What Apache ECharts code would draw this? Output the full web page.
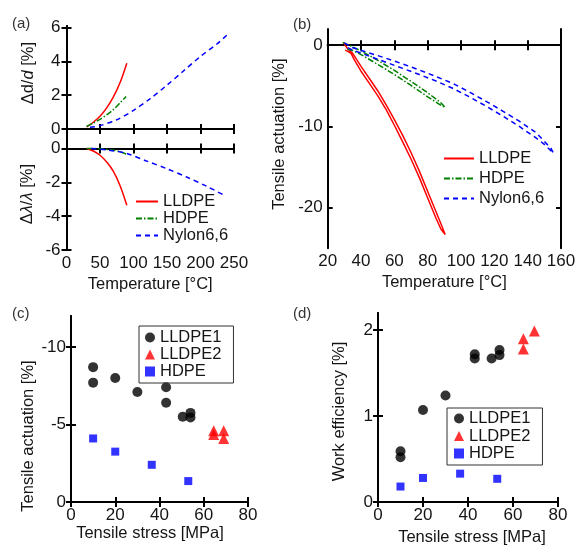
<!DOCTYPE html>
<html>
<head>
<meta charset="utf-8">
<script src="https://cdn.jsdelivr.net/npm/echarts@6/dist/echarts.min.js"></script>
<style>
  html, body { margin: 0; padding: 0; background: #fff; }
  #chart { width: 576px; height: 546px; }
</style>
</head>
<body>
<div id="chart"></div>
<script>
// ---------- (a) upper: diameter change vs temperature ----------
const aTempLLDPE = [30, 40, 50, 60, 70, 80, 90];
const aDiamLLDPE = [0.12, 0.4, 0.75, 1.25, 1.9, 2.75, 3.9];
const aTempHDPE = [30, 40, 50, 60, 70, 80, 89];
const aDiamHDPE = [0.15, 0.35, 0.57, 0.84, 1.15, 1.55, 1.93];
const aTempNylon = [35, 50, 75, 100, 125, 150, 175, 200, 225, 241];
const aDiamNylon = [0.1, 0.2, 0.55, 1.1, 1.8, 2.6, 3.45, 4.3, 5.05, 5.62];

// ---------- (a) lower: pitch change vs temperature ----------
const aPitchTempLLDPE = [30, 40, 50, 60, 70, 80, 90];
const aPitchLLDPE = [0, -0.15, -0.4, -0.8, -1.35, -2.2, -3.35];
const aPitchTempHDPE = [30, 50, 70, 80, 89];
const aPitchHDPE = [0, -0.02, -0.1, -0.2, -0.33];
const aPitchTempNylon = [37, 60, 90, 120, 150, 180, 210, 237];
const aPitchNylon = [0, -0.08, -0.3, -0.75, -1.2, -1.7, -2.25, -2.8];

// ---------- (b) tensile actuation loops (heating then cooling) ----------
const bTempLLDPE = [29.5, 32, 35, 40, 45, 50, 55, 60, 65, 70, 75, 80, 85, 88, 90.5,
                    88, 85, 80, 75, 70, 65, 60, 55, 50, 45, 40, 36, 34, 32, 30.5];
const bActLLDPE = [0.3, -0.45, -1.0, -2.6, -4.1, -5.6, -7.3, -9.15, -11.1, -13.2, -15.5, -18.0, -20.5, -22.0, -23.3,
                   -22.65, -21.3, -18.8, -16.3, -14.0, -11.9, -9.85, -7.9, -6.2, -4.7, -3.2, -1.8, -1.0, -0.75, -0.6];
const bTempHDPE = [29, 35, 40, 50, 60, 70, 80, 88, 90.5,
                   88, 80, 70, 60, 50, 40, 35, 30.5];
const bActHDPE = [0.35, -0.2, -0.7, -1.85, -3.1, -4.45, -5.85, -7.1, -7.65,
                  -7.4, -6.35, -4.95, -3.6, -2.35, -1.15, -0.65, -0.45];
const bTempNylon = [30, 35, 45, 55, 65, 75, 85, 95, 105, 115, 125, 135, 145, 154, 155.5,
                    150, 145, 135, 125, 115, 105, 95, 85, 75, 65, 55, 45, 35, 31];
const bActNylon = [0.3, -0.3, -0.95, -1.6, -2.3, -3.05, -3.85, -4.7, -5.75, -6.9, -8.1, -9.35, -10.75, -12.7, -13.3,
                   -12.2, -11.4, -10.0, -8.7, -7.5, -6.35, -5.3, -4.4, -3.6, -2.85, -2.1, -1.35, -0.6, -0.2];

// ---------- (c) tensile actuation vs stress ----------
const cStressLLDPE1 = [10, 10, 20, 30, 43, 43, 50.5, 54, 54];
const cActLLDPE1 = [-8.7, -7.7, -8.0, -7.1, -7.4, -6.4, -5.5, -5.75, -5.45];
const cStressLLDPE2 = [64.5, 64.5, 69, 69];
const cActLLDPE2 = [-4.6, -4.35, -4.6, -4.1];
const cStressHDPE = [10, 20, 36.5, 53];
const cActHDPE = [-4.1, -3.25, -2.4, -1.35];

// ---------- (d) work efficiency vs stress ----------
const dStressLLDPE1 = [10, 10, 20, 30, 43, 43, 50.5, 54, 54];
const dEffLLDPE1 = [0.59, 0.52, 1.07, 1.24, 1.72, 1.67, 1.67, 1.77, 1.71];
const dStressLLDPE2 = [64.6, 64.6, 69.5];
const dEffLLDPE2 = [1.9, 1.78, 1.99];
const dStressHDPE = [10, 20, 36.5, 53];
const dEffHDPE = [0.18, 0.28, 0.33, 0.27];

// ---------- tick values ----------
const aTopTicks = [0, 2, 4, 6];
const aBottomTicks = [-6, -4, -2, 0];
const bTicks = [-20, -10, 0];
const cTicks = [-10, -5, 0];
const dTicks = [0, 1, 2];

const FONT = 'Liberation Sans, Arial, Helvetica, sans-serif';
const INK = '#151515';
const RED = '#ff0000', GREEN = '#008000', BLUE = '#0000ff';

const zip = (xs, ys) => xs.map((x, i) => [x, ys[i]]);

const frameLine = { show: true, lineStyle: { color: '#000', width: 2 } };
const tickStyle = { show: true, inside: true, length: 5, lineStyle: { color: '#000', width: 2 } };
const labelStyle = { color: INK, fontSize: 17, fontFamily: FONT };
const nameStyle = { color: INK, fontSize: 16.5, fontFamily: FONT };

const xAxis = [], yAxis = [];

function addX(grid, min, max, interval, opts) {
  const base = { type: 'value', gridIndex: grid, min, max, interval, splitLine: { show: false }, axisLine: frameLine };
  xAxis.push(Object.assign({}, base, {
    position: 'bottom',
    axisTick: tickStyle,
    axisLabel: Object.assign({ show: !!opts.labels, margin: 5, showMinLabel: true, showMaxLabel: true }, labelStyle),
    name: opts.name || '', nameLocation: 'middle', nameGap: opts.nameGap || 0,
    nameTextStyle: Object.assign({ padding: opts.namePad || 0 }, nameStyle)
  }));
  const idx = xAxis.length - 1;
  xAxis.push(Object.assign({}, base, { position: 'top', axisTick: tickStyle, axisLabel: { show: false } }));
  return idx;
}

function addY(grid, min, max, ticks, opts) {
  const base = { type: 'value', gridIndex: grid, min, max, inverse: !!opts.inverse, splitLine: { show: false }, axisLine: frameLine };
  const tick = Object.assign({}, tickStyle, { customValues: ticks });
  yAxis.push(Object.assign({}, base, {
    position: 'left',
    axisTick: tick,
    axisLabel: Object.assign({ show: !!opts.labels, margin: opts.margin || 5, customValues: ticks }, labelStyle),
    name: opts.name || '', nameLocation: 'middle', nameGap: opts.nameGap || 0,
    nameTextStyle: Object.assign({ padding: opts.namePad || 0, rich: { i: Object.assign({ fontStyle: 'italic' }, nameStyle) } }, nameStyle)
  }));
  const idx = yAxis.length - 1;
  yAxis.push(Object.assign({}, base, { position: 'right', axisTick: tick, axisLabel: { show: false } }));
  return idx;
}

// panel (a), upper and lower halves share the temperature scale
const xA1 = addX(0, 0, 250, 50, { labels: false });
const yA1 = addY(0, -0.55, 6.1, aTopTicks, { labels: true, margin: 6, name: 'Δd/{i|d} [%]', nameGap: 30, namePad: [0, 0, 0, 18] });
const xA2 = addX(1, 0, 250, 50, { labels: true, name: 'Temperature [°C]', nameGap: 26 });
const yA2 = addY(1, -6, 0.6, aBottomTicks, { labels: true, margin: 6, name: 'Δ{i|λ}/{i|λ} [%]', nameGap: 31 });
// panel (b)
const xB = addX(2, 20, 160, 20, { labels: true, name: 'Temperature [°C]', nameGap: 26 });
const yB = addY(2, -25, 2, bTicks, { labels: true, name: 'Tensile actuation [%]', nameGap: 40, namePad: [0, 0, 0, 9] });
// panel (c)
const xC = addX(3, 0, 80, 20, { labels: true, name: 'Tensile stress [MPa]', nameGap: 23, namePad: [0, 19, 0, 0] });
const yC = addY(3, -12, 0, cTicks, { labels: true, inverse: true, name: 'Tensile actuation [%]', nameGap: 34, namePad: [0, 54, 0, 0] });
// panel (d)
const xD = addX(4, 0, 80, 20, { labels: true, name: 'Tensile stress [MPa]', nameGap: 27, namePad: [0, 0, 0, 8] });
const yD = addY(4, 0, 2.2, dTicks, { labels: true, name: 'Work efficiency [%]', nameGap: 30, namePad: [0, 8, 0, 0] });

function line(name, x, y, data, color, type, smooth) {
  return {
    type: 'line', name, xAxisIndex: x, yAxisIndex: y, data,
    symbol: 'none', showSymbol: false, smooth: smooth === undefined ? 0.3 : smooth,
    lineStyle: { color, width: 1.5, type },
    itemStyle: { color }
  };
}
function dots(name, x, y, data, color, symbol, size) {
  return { type: 'scatter', name, xAxisIndex: x, yAxisIndex: y, data, symbol, symbolSize: size, itemStyle: { color } };
}

const DASH = [5, 4];
const DASHDOT = [6, 2, 1.5, 2];

const series = [
  line('LLDPE', xA1, yA1, zip(aTempLLDPE, aDiamLLDPE), RED, 'solid'),
  line('HDPE', xA1, yA1, zip(aTempHDPE, aDiamHDPE), GREEN, DASHDOT),
  line('Nylon6,6', xA1, yA1, zip(aTempNylon, aDiamNylon), BLUE, DASH),
  line('LLDPE', xA2, yA2, zip(aPitchTempLLDPE, aPitchLLDPE), RED, 'solid'),
  line('HDPE', xA2, yA2, zip(aPitchTempHDPE, aPitchHDPE), GREEN, DASHDOT),
  line('Nylon6,6', xA2, yA2, zip(aPitchTempNylon, aPitchNylon), BLUE, DASH),
  line('LLDPE', xB, yB, zip(bTempLLDPE, bActLLDPE), RED, 'solid', false),
  line('HDPE', xB, yB, zip(bTempHDPE, bActHDPE), GREEN, DASHDOT, false),
  line('Nylon6,6', xB, yB, zip(bTempNylon, bActNylon), BLUE, DASH, false),
  dots('LLDPE1', xC, yC, zip(cStressLLDPE1, cActLLDPE1), '#000', 'circle', 10),
  dots('LLDPE2', xC, yC, zip(cStressLLDPE2, cActLLDPE2), RED, 'triangle', 11),
  dots('HDPE ', xC, yC, zip(cStressHDPE, cActHDPE), BLUE, 'rect', 8),
  dots('LLDPE1', xD, yD, zip(dStressLLDPE1, dEffLLDPE1), '#000', 'circle', 10),
  dots('LLDPE2', xD, yD, zip(dStressLLDPE2, dEffLLDPE2), RED, 'triangle', 11),
  dots('HDPE ', xD, yD, zip(dStressHDPE, dEffHDPE), BLUE, 'rect', 8)
];

const legendText = { color: INK, fontSize: 16.5, fontFamily: FONT };
const lineNames = ['LLDPE', 'HDPE', 'Nylon6,6'];
const dotNames = ['LLDPE1', 'LLDPE2', 'HDPE '];
// line legends show only the stroke, no marker
const lineOnly = { opacity: 0 };

const legend = [
  { orient: 'vertical', left: 135, top: 193, padding: 0, itemWidth: 22, itemHeight: 12, itemGap: 0, data: lineNames,
    itemStyle: lineOnly, textStyle: legendText, selectedMode: false },
  { orient: 'vertical', left: 443, top: 150, padding: 0, itemWidth: 30, itemHeight: 12, itemGap: 3, data: lineNames,
    itemStyle: lineOnly, textStyle: legendText, selectedMode: false },
  { orient: 'vertical', left: 139, top: 326, padding: [3, 12, 3, 6], itemWidth: 10, itemHeight: 10, itemGap: 0,
    borderColor: '#333', borderWidth: 1, data: dotNames, formatter: n => n.trim(), textStyle: legendText, selectedMode: false },
  { orient: 'vertical', left: 447, top: 408, padding: [2, 12, 3, 7], itemWidth: 10, itemHeight: 10, itemGap: 0.5,
    borderColor: '#333', borderWidth: 1, data: dotNames, formatter: n => n.trim(), textStyle: legendText, selectedMode: false }
];

const panelLabel = (text, left, top) => ({ text, left, top, padding: 0, textStyle: { color: '#333', fontSize: 15, fontWeight: 'normal', fontFamily: FONT } });

const chart = echarts.init(document.getElementById('chart'), null, { renderer: 'canvas' });
chart.setOption({
  animation: false,
  backgroundColor: '#fff',
  title: [panelLabel('(a)', 12, 16), panelLabel('(b)', 293, 17), panelLabel('(c)', 12, 306), panelLabel('(d)', 293, 306)],
  grid: [
    { left: 66.5, top: 26, width: 167.5, height: 112.3, outerBoundsMode: 'none' },
    { left: 66.5, top: 138.3, width: 167.5, height: 111.7, outerBoundsMode: 'none' },
    { left: 327.7, top: 29, width: 233.3, height: 219.3, outerBoundsMode: 'none' },
    { left: 71, top: 316, width: 177, height: 186, outerBoundsMode: 'none' },
    { left: 378, top: 313, width: 180, height: 189, outerBoundsMode: 'none' }
  ],
  xAxis, yAxis, legend, series
});
</script>
</body>
</html>
